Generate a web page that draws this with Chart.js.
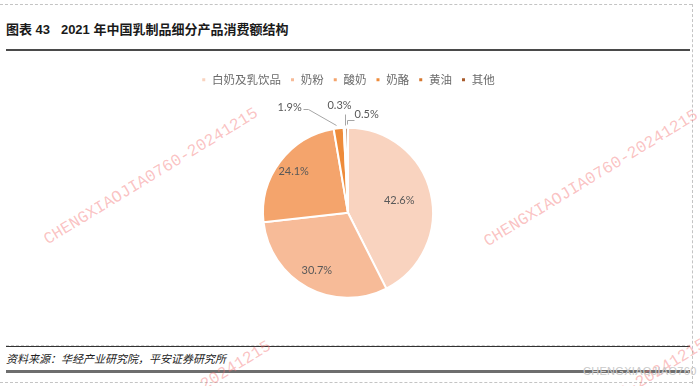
<!DOCTYPE html>
<html>
<head>
<meta charset="utf-8">
<script src="https://cdn.jsdelivr.net/npm/chart.js@4/dist/chart.umd.min.js"></script>
<style>
  html, body { margin: 0; padding: 0; background: #fff; }
  body { width: 700px; height: 386px; position: relative; overflow: hidden; font-family: "Noto Sans CJK SC", sans-serif; }
  .abs { position: absolute; }
  #title { left: 6px; top: 19px; font-size: 13px; font-weight: bold; color: #1a1a1a; white-space: pre; font-family: "Liberation Sans", "Noto Sans CJK SC", sans-serif; }
  #source { left: 6px; top: 350px; font-size: 11px; font-style: italic; color: #222; white-space: pre; }
  .wm { position: absolute; font-family: "Liberation Mono", monospace; font-size: 16.5px; line-height: 16.5px; color: rgba(244,110,110,0.42); transform-origin: 0 100%; transform: rotate(-31.4deg); white-space: pre; }
  #graywm { left: 583px; top: 365px; font-size: 11px; color: #c9c9c9; font-family: "Liberation Sans", sans-serif; letter-spacing: 0.3px; }
  #wrap { position: absolute; left: 0; top: 0; width: 700px; height: 386px; }
</style>
</head>
<body>
<!-- decorative frame -->
<div class="abs" style="left:0;top:4px;width:692px;border-top:1px dashed #c4c4c4;"></div>
<div class="abs" style="left:692px;top:4px;height:380px;border-left:1px dashed #c4c4c4;"></div>
<div class="abs" style="left:0;top:382px;width:692px;border-top:1px dashed #c4c4c4;"></div>
<div class="abs" style="left:6px;top:49px;width:684px;height:2px;background:#4a4a4a;"></div>
<div class="abs" style="left:6px;top:345px;width:684px;border-top:1px dashed #cfcfcf;"></div>
<div class="abs" style="left:6px;top:346px;width:684px;height:1px;background:#333;"></div>
<div class="abs" style="left:6px;top:370px;width:684px;height:3px;background:#6e6e6e;"></div>

<div class="wm" style="left:50px;top:232px;">CHENGXIAOJIA0760-20241215</div>
<div class="wm" style="left:490px;top:234px;">CHENGXIAOJIA0760-20241215</div>
<div class="wm" style="left:63px;top:465px;">CHENGXIAOJIA0760-20241215</div>
<div class="wm" style="left:498px;top:463px;">CHENGXIAOJIA0760-20241215</div>

<div id="title" class="abs">图表 43   2021 年中国乳制品细分产品消费额结构</div>
<div id="source" class="abs">资料来源：华经产业研究院，平安证券研究所</div>
<div id="graywm" class="abs">CHENGXIAOJIAO760</div>

<div id="wrap"><canvas id="c" width="700" height="386"></canvas></div>

<script>
// ---- data ----
const categories = ["白奶及乳饮品", "奶粉", "酸奶", "奶酪", "黄油", "其他"];
const shares = [42.6, 30.7, 24.1, 1.9, 0.3, 0.5];

// ---- style ----
const sliceColors = ["#F9D3BF", "#F7BB98", "#F4A46C", "#EE8B3A", "#D67830", "#A85B2B"];
const labelColor = "#595959";
const labelFont = "11px Lato, 'Open Sans', sans-serif";
const insideLabelRadius = [0.62, 0.77, 0.8];
// callout geometry for small slices, relative to the slice's outer edge point
const callouts = {
  3: { text: [-49, -21], path: [[-3, -3], [-31, -19], [-36, -19]] },
  4: { text: [-5, -22], path: [[0, -3], [0, -14]] },
  5: { text: [20, -13], path: [[0, -4], [0, -8], [7, -8]] }
};

const labelPlugin = {
  id: 'sliceLabels',
  afterDatasetsDraw(chart) {
    const ctx = chart.ctx;
    const meta = chart.getDatasetMeta(0);
    const data = chart.data.datasets[0].data;
    ctx.save();
    ctx.font = labelFont;
    ctx.fillStyle = labelColor;
    ctx.textAlign = 'center';
    ctx.textBaseline = 'middle';
    meta.data.forEach((arc, i) => {
      const p = arc.getProps(['x', 'y', 'startAngle', 'endAngle', 'outerRadius'], true);
      const mid = (p.startAngle + p.endAngle) / 2;
      const txt = data[i].toFixed(1) + '%';
      if (data[i] >= 5) {
        const d = p.outerRadius * (insideLabelRadius[i] || 0.7);
        ctx.fillText(txt, p.x + Math.cos(mid) * d, p.y + Math.sin(mid) * d);
      } else if (callouts[i]) {
        const ex = p.x + Math.cos(mid) * p.outerRadius;
        const ey = p.y + Math.sin(mid) * p.outerRadius;
        const c = callouts[i];
        ctx.strokeStyle = '#a6a6a6';
        ctx.lineWidth = 1;
        ctx.beginPath();
        c.path.forEach((pt, k) => {
          const X = Math.round(ex + pt[0]) + 0.5, Y = Math.round(ey + pt[1]) + 0.5;
          if (k === 0) ctx.moveTo(X, Y); else ctx.lineTo(X, Y);
        });
        ctx.stroke();
        ctx.fillText(txt, ex + c.text[0], ey + c.text[1]);
      }
    });
    ctx.restore();
  }
};

new Chart(document.getElementById('c'), {
  type: 'pie',
  data: {
    labels: categories,
    datasets: [{
      data: shares,
      backgroundColor: sliceColors,
      borderColor: '#ffffff',
      borderWidth: 2,
      radius: 85
    }]
  },
  options: {
    responsive: false,
    animation: false,
    events: [],
    layout: { padding: { top: 65, bottom: 56, left: 0, right: 4 } },
    plugins: {
      tooltip: { enabled: false },
      legend: {
        position: 'top',
        labels: {
          boxWidth: 5,
          boxHeight: 5,
          padding: 9,
          color: '#6b6b6b',
          font: { size: 11.5, family: "'Noto Sans CJK SC', sans-serif" }
        }
      }
    }
  },
  plugins: [labelPlugin]
});
</script>
</body>
</html>
